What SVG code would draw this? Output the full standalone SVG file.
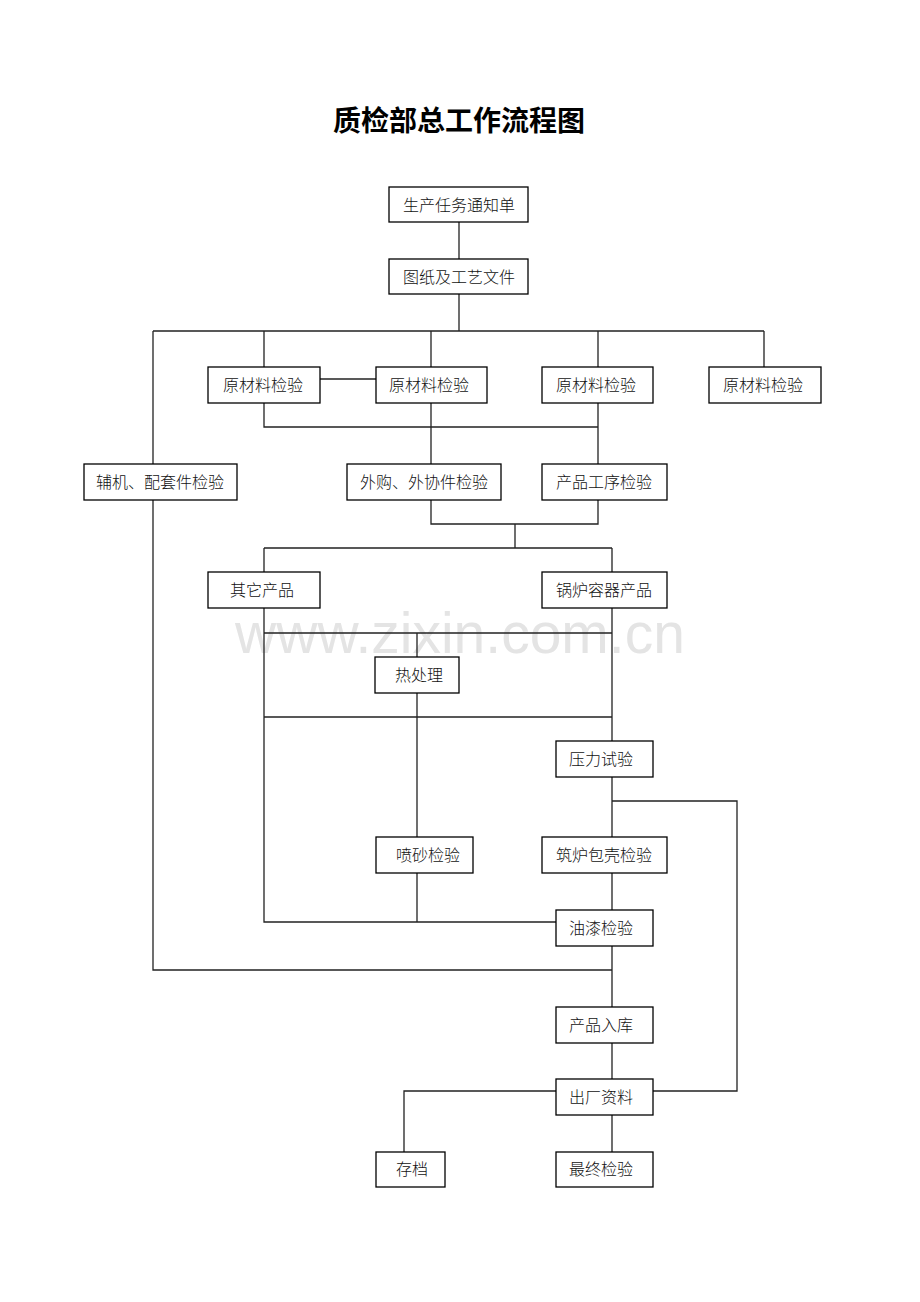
<svg xmlns="http://www.w3.org/2000/svg" width="920" height="1302" viewBox="0 0 920 1302">
<style>
.box{fill:#fff;stroke:#000;stroke-width:1.3}
.lbl{font-family:"Liberation Serif","Noto Sans CJK SC",serif;font-size:16px;font-weight:300;fill:#111;text-anchor:middle;dominant-baseline:central}
.ln{fill:none;stroke:#222;stroke-width:1.3}
.title{font-family:"Noto Sans CJK SC",sans-serif;font-size:28px;font-weight:bold;text-anchor:middle;fill:#000}
.wm{font-family:"Liberation Sans",Arial,sans-serif;font-size:57px;fill:#e4e4e4;text-anchor:middle}
</style>
<rect width="920" height="1302" fill="#fff"/>
<text class="title" x="459" y="131">质检部总工作流程图</text>
<text class="wm" x="460" y="653">www.zixin.com.cn</text>
<g id="connectors">
<path class="ln" d="M459 222V259M459 294V331M153 331H764M153 331V464M264 331V367M431 331V367M598 331V367M764 331V367"/>
<path class="ln" d="M320 379H376"/>
<path class="ln" d="M264 403V427H598M431 403V464M598 403V464"/>
<path class="ln" d="M431 500V524H598V500M515 524V548M264 548H612M264 548V572M612 548V572"/>
<path class="ln" d="M264 608V922H556M612 608V741M264 633H612M264 717H612M417 633V657M417 693V837M417 873V922"/>
<path class="ln" d="M612 777V837M612 801H737V1091H653M612 873V910M612 946V1007M153 500V970H612M612 1043V1079"/>
<path class="ln" d="M556 1091H404V1152M612 1115V1152"/>
</g>
<g id="n1"><rect class="box" x="389" y="187" width="139" height="35"/><text class="lbl" x="459" y="205">生产任务通知单</text></g>
<g id="n2"><rect class="box" x="389" y="259" width="139" height="35"/><text class="lbl" x="459" y="277">图纸及工艺文件</text></g>
<g id="n3"><rect class="box" x="208" y="367" width="112" height="36"/><text class="lbl" x="263" y="385">原材料检验</text></g>
<g id="n4"><rect class="box" x="376" y="367" width="111" height="36"/><text class="lbl" x="429" y="385">原材料检验</text></g>
<g id="n5"><rect class="box" x="542" y="367" width="111" height="36"/><text class="lbl" x="596" y="385">原材料检验</text></g>
<g id="n6"><rect class="box" x="709" y="367" width="112" height="36"/><text class="lbl" x="763" y="385">原材料检验</text></g>
<g id="n7"><rect class="box" x="84" y="464" width="153" height="36"/><text class="lbl" x="160" y="482">辅机、配套件检验</text></g>
<g id="n8"><rect class="box" x="347" y="464" width="154" height="36"/><text class="lbl" x="424" y="482">外购、外协件检验</text></g>
<g id="n9"><rect class="box" x="542" y="464" width="125" height="36"/><text class="lbl" x="604" y="482">产品工序检验</text></g>
<g id="n10"><rect class="box" x="208" y="572" width="112" height="36"/><text class="lbl" x="262" y="590">其它产品</text></g>
<g id="n11"><rect class="box" x="542" y="572" width="125" height="36"/><text class="lbl" x="604" y="590">锅炉容器产品</text></g>
<g id="n12"><rect class="box" x="375" y="657" width="84" height="36"/><text class="lbl" x="419" y="675">热处理</text></g>
<g id="n13"><rect class="box" x="556" y="741" width="97" height="36"/><text class="lbl" x="601" y="759">压力试验</text></g>
<g id="n14"><rect class="box" x="376" y="837" width="97" height="36"/><text class="lbl" x="428" y="855">喷砂检验</text></g>
<g id="n15"><rect class="box" x="542" y="837" width="125" height="36"/><text class="lbl" x="604" y="855">筑炉包壳检验</text></g>
<g id="n16"><rect class="box" x="556" y="910" width="97" height="36"/><text class="lbl" x="601" y="928">油漆检验</text></g>
<g id="n17"><rect class="box" x="556" y="1007" width="97" height="36"/><text class="lbl" x="601" y="1025">产品入库</text></g>
<g id="n18"><rect class="box" x="556" y="1079" width="97" height="36"/><text class="lbl" x="601" y="1097">出厂资料</text></g>
<g id="n19"><rect class="box" x="376" y="1152" width="69" height="35"/><text class="lbl" x="412" y="1169">存档</text></g>
<g id="n20"><rect class="box" x="556" y="1152" width="97" height="35"/><text class="lbl" x="601" y="1169">最终检验</text></g>
</svg>
